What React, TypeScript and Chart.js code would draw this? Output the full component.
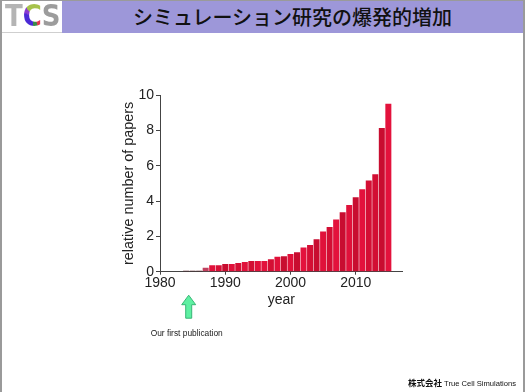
import React, { useEffect, useRef } from "react";
import { Chart, registerables } from "chart.js";

Chart.register(...registerables);

const titleText = "シミュレーション研究の爆発的増加";
const yAxisTitle = "relative number of papers";
const xAxisTitle = "year";
const annotationText = "Our first publication";
const footerCompany = "株式会社";
const footerName = "True Cell Simulations";

const years = [
  1984, 1985, 1986, 1987, 1988, 1989, 1990, 1991, 1992, 1993, 1994, 1995,
  1996, 1997, 1998, 1999, 2000, 2001, 2002, 2003, 2004, 2005, 2006, 2007,
  2008, 2009, 2010, 2011, 2012, 2013, 2014, 2015,
];
const values = [
  0.05, 0.05, 0.05, 0.22, 0.36, 0.36, 0.44, 0.44, 0.49, 0.55, 0.6, 0.6,
  0.6, 0.7, 0.85, 0.87, 1.0, 1.1, 1.37, 1.51, 1.84, 2.28, 2.53, 2.96,
  3.36, 3.77, 4.21, 4.66, 5.16, 5.52, 8.13, 9.51,
];
const barColors = [
  "#5a1a22", "#5a1a22", "#5a1a22", "#c0405e", "#e0113a", "#d80f36", "#c80d30", "#e0113a",
  "#d40f34", "#e0113a", "#d20e33", "#e0113a", "#e3123c", "#d40f34", "#e0113a", "#c80d30",
  "#e0113a", "#c80d30", "#e3123c", "#d40f34", "#c80d30", "#e0113a", "#d20e33", "#e3123c",
  "#c80d30", "#e0113a", "#c80d30", "#e3123c", "#d40f34", "#d20e33", "#c80d30", "#e3123c",
];
const yTickValues = [0, 2, 4, 6, 8, 10];
const xTickValues = [1980, 1990, 2000, 2010];
const firstPublicationYear = 1984.4;

const FONT = "'Liberation Sans', Arial, sans-serif";

const annotationPlugin = {
  id: "firstPublication",
  afterDraw(chart: any) {
    const { ctx, chartArea, scales } = chart;
    const x = scales.x.getPixelForValue(firstPublicationYear);
    const tip = chartArea.bottom + 23.5;
    const headBase = tip + 9.5;
    const bottom = tip + 23;
    ctx.save();
    ctx.beginPath();
    ctx.moveTo(x, tip);
    ctx.lineTo(x + 7, headBase);
    ctx.lineTo(x + 3, headBase);
    ctx.lineTo(x + 3, bottom);
    ctx.lineTo(x - 3, bottom);
    ctx.lineTo(x - 3, headBase);
    ctx.lineTo(x - 7, headBase);
    ctx.closePath();
    ctx.fillStyle = "#5ef0a2";
    ctx.fill();
    ctx.strokeStyle = "#38b676";
    ctx.lineWidth = 1;
    ctx.stroke();
    ctx.fillStyle = "#222";
    ctx.font = `8.4px ${FONT}`;
    ctx.textAlign = "center";
    ctx.textBaseline = "middle";
    ctx.fillText(annotationText, x - 2, bottom + 15);
    ctx.restore();
  },
};

function ChartCanvas() {
  const ref = useRef<HTMLCanvasElement | null>(null);
  useEffect(() => {
    if (!ref.current) return;
    const chart = new Chart(ref.current, {
      type: "bar",
      data: {
        datasets: [
          {
            data: years.map((y, i) => ({ x: y, y: values[i] })),
            backgroundColor: barColors,
            borderWidth: 0,
            barPercentage: 0.92,
            categoryPercentage: 1,
          },
        ],
      },
      options: {
        animation: false,
        responsive: false,
        events: [],
        layout: { padding: { left: 110, top: 95, right: 123.3, bottom: 80.3 } },
        plugins: { legend: { display: false }, tooltip: { enabled: false } },
        scales: {
          x: {
            type: "linear",
            min: 1980,
            max: 2017.2,
            offset: false,
            afterBuildTicks: (axis: any) => {
              axis.ticks = xTickValues.map((v) => ({ value: v }));
            },
            afterFit: (s: any) => {
              s.height = 40;
            },
            grid: {
              offset: false,
              drawOnChartArea: false,
              drawTicks: true,
              tickLength: 3,
              color: "#444",
            },
            border: { display: true, color: "#444", width: 1 },
            ticks: {
              font: { family: FONT, size: 14 },
              color: "#222",
              padding: 0,
              maxRotation: 0,
              autoSkip: false,
              callback: (v: any) => String(v),
            },
            title: {
              display: true,
              text: xAxisTitle,
              font: { family: FONT, size: 14 },
              color: "#222",
              padding: { top: 0, bottom: 3 },
            },
          },
          y: {
            min: 0,
            max: 10,
            afterBuildTicks: (axis: any) => {
              axis.ticks = yTickValues.map((v) => ({ value: v }));
            },
            afterFit: (s: any) => {
              s.width = 50;
            },
            grid: {
              drawOnChartArea: false,
              drawTicks: true,
              tickLength: 4,
              color: "#444",
            },
            border: { display: true, color: "#444", width: 1 },
            ticks: {
              font: { family: FONT, size: 14 },
              color: "#222",
              padding: 2,
            },
            title: {
              display: true,
              text: yAxisTitle,
              font: { family: FONT, size: 14.4 },
              color: "#222",
              padding: { top: 10, bottom: 0 },
            },
          },
        },
      },
      plugins: [annotationPlugin],
    } as any);
    return () => chart.destroy();
  }, []);
  return (
    <canvas
      ref={ref}
      width={526}
      height={392}
      style={{ position: "absolute", left: 0, top: 0, width: 526, height: 392 }}
    />
  );
}

export default function App() {
  return (
    <div
      style={{
        position: "fixed",
        left: 0,
        top: 0,
        width: 526,
        height: 392,
        background: "#fff",
        overflow: "hidden",
      }}
    >
      {/* frame */}
      <div style={{ position: "absolute", left: 0, top: 0, width: 2, height: 392, background: "#9a9a9a" }} />
      <div style={{ position: "absolute", left: 523, top: 0, width: 2, height: 392, background: "#9a9a9a" }} />
      <div style={{ position: "absolute", left: 0, top: 0, width: 525, height: 1, background: "#9a9a9a" }} />
      {/* header band */}
      <div
        style={{
          position: "absolute",
          left: 62,
          top: 1,
          width: 461,
          height: 32,
          background: "#9d97d9",
          display: "flex",
          alignItems: "center",
          justifyContent: "center",
        }}
      >
        <span
          style={{
            fontFamily: "'Noto Sans CJK JP', sans-serif",
            fontSize: 20,
            fontWeight: 500,
            color: "#111",
            lineHeight: "32px",
          }}
        >
          {titleText}
        </span>
      </div>
      {/* logo */}
      <div style={{ position: "absolute", left: 2, top: 32, width: 60, height: 1, background: "#cfcfcf" }} />
      <div
        style={{
          position: "absolute",
          left: 5,
          top: 1,
          height: 31,
          display: "flex",
          alignItems: "center",
          fontFamily: "'DejaVu Sans', sans-serif",
          fontWeight: 700,
          fontSize: 26,
          letterSpacing: 0,
          transform: "scaleY(1.15)",
          lineHeight: "31px",
        }}
      >
        <span style={{ color: "#b4b4b4" }}>T</span>
        <span
          style={{
            background:
              "conic-gradient(from 0deg at 55% 50%, #a6c24a 0 22%, #e0364e 22% 42%, #3a8a4a 42% 50%, #4a2ad6 50% 80%, #8a3ad0 80% 88%, #a6c24a 88%)",
            WebkitBackgroundClip: "text",
            backgroundClip: "text",
            color: "transparent",
          }}
        >
          C
        </span>
        <span style={{ color: "#9c9c9c" }}>S</span>
      </div>
      <ChartCanvas />
      {/* footer */}
      <div
        style={{
          position: "absolute",
          right: 10,
          top: 375,
          whiteSpace: "nowrap",
          color: "#111",
          lineHeight: "12px",
        }}
      >
        <span style={{ fontFamily: "'Noto Sans CJK JP', sans-serif", fontSize: 8.5, fontWeight: 700 }}>
          {footerCompany}
        </span>
        <span style={{ fontFamily: FONT, fontSize: 7.6 }}> {footerName}</span>
      </div>
    </div>
  );
}
